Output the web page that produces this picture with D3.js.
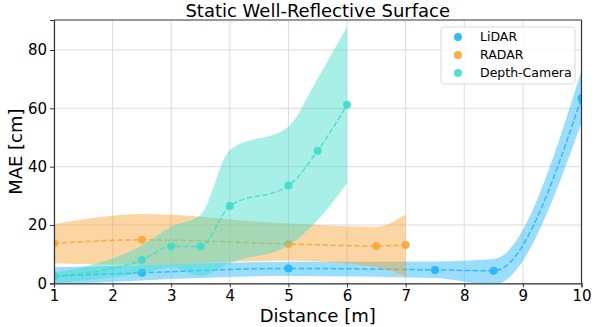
<!DOCTYPE html>
<html>
<head>
<meta charset="utf-8">
<script src="https://cdn.jsdelivr.net/npm/d3@7"></script>
<style>
  body { margin: 0; background: #fff; }
  svg { font-family: "DejaVu Sans", sans-serif; }
</style>
</head>
<body>
<div id="chart"></div>
<script>
const lidarX = [1, 2.5, 5, 7.5, 8.5, 10];
const lidarMae = [2.5, 3.6, 5.1, 4.6, 4.3, 63.5];
const lidarHi = [5.5, 6.2, 7.4, 7.5, 8.3, 73];
const lidarLo = [-0.5, 1.0, 2.5, 1.8, -0.5, 55];

const radarX = [1, 2.5, 5, 6.5, 7];
const radarMae = [13.7, 14.9, 13.5, 12.8, 13.1];
const radarHi = [20.3, 23.8, 20.5, 19.4, 23.6];
const radarLo = [6.9, 6.3, 7.8, 5.5, 2.3];

const depthX = [1, 2.5, 3, 3.5, 4, 5, 5.5, 6];
const depthMae = [2.4, 8.0, 12.6, 12.6, 26.5, 33.5, 45.5, 61.2];
const depthHi = [3.5, 13.0, 19.4, 23.4, 45.7, 53.7, 70.3, 88];
const depthLo = [0, 3.5, 5.5, 2.5, 7.0, 13.0, 21.7, 34.3];

const seriesNames = ["LiDAR", "RADAR", "Depth-Camera"];
const seriesColors = ["#1fb4f8", "#f7a535", "#3fdccb"];

const xTicks = [1, 2, 3, 4, 5, 6, 7, 8, 9, 10];
const yTicks = [0, 20, 40, 60, 80];

const width = 598, height = 327;
const margin = {top: 20, right: 16, bottom: 44, left: 54};

const svg = d3.select("#chart").append("svg")
    .attr("width", width)
    .attr("height", height);

const x = d3.scaleLinear().domain([1, 10]).range([margin.left, width - margin.right - 0.5]);
const y = d3.scaleLinear().domain([0, 90.3]).range([height - margin.bottom + 0.3, margin.top]);

svg.append("defs").append("clipPath").attr("id", "plot")
  .append("rect")
    .attr("x", x(1)).attr("y", y(90.3))
    .attr("width", x(10) - x(1)).attr("height", y(0) - y(90.3));

// grid
const grid = svg.append("g");
grid.selectAll(".gx").data(xTicks).enter().append("line")
    .attr("x1", d => x(d)).attr("x2", d => x(d))
    .attr("y1", y(0)).attr("y2", y(90.3))
    .attr("stroke", "#dcdcdc").attr("stroke-width", 1);
grid.selectAll(".gy").data(yTicks).enter().append("line")
    .attr("x1", x(1)).attr("x2", x(10))
    .attr("y1", d => y(d)).attr("y2", d => y(d))
    .attr("stroke", "#dcdcdc").attr("stroke-width", 1);

const series = [
  {xs: lidarX, m: lidarMae, hi: lidarHi, lo: lidarLo},
  {xs: radarX, m: radarMae, hi: radarHi, lo: radarLo},
  {xs: depthX, m: depthMae, hi: depthHi, lo: depthLo}
];

const plot = svg.append("g").attr("clip-path", "url(#plot)");

series.forEach((s, i) => {
  const color = seriesColors[i];
  const idx = d3.range(s.xs.length);

  const area = d3.area()
      .x(j => x(s.xs[j]))
      .y0(j => y(s.lo[j]))
      .y1(j => y(s.hi[j]))
      .curve(d3.curveMonotoneX);

  plot.append("path")
      .attr("d", area(idx))
      .attr("fill", color)
      .attr("fill-opacity", 0.45);

  const line = d3.line()
      .x(j => x(s.xs[j]))
      .y(j => y(s.m[j]))
      .curve(d3.curveMonotoneX);

  plot.append("path")
      .attr("d", line(idx))
      .attr("fill", "none")
      .attr("stroke", color)
      .attr("stroke-opacity", 0.85)
      .attr("stroke-width", 1.5)
      .attr("stroke-dasharray", "5.5,2.4");

  plot.selectAll(".pt" + i).data(idx).enter().append("circle")
      .attr("cx", j => x(s.xs[j]))
      .attr("cy", j => y(s.m[j]))
      .attr("r", 4)
      .attr("fill", color)
      .attr("fill-opacity", 0.9);
});

// axes
const xAxis = svg.append("g")
    .attr("transform", `translate(0,${y(0)})`)
    .call(d3.axisBottom(x).tickValues(xTicks).tickSize(4).tickPadding(3).tickFormat(d3.format("d")));
const yAxis = svg.append("g")
    .attr("transform", `translate(${x(1)},0)`)
    .call(d3.axisLeft(y).tickValues(yTicks).tickSize(4).tickPadding(3).tickFormat(d3.format("d")));

[xAxis, yAxis].forEach(a => {
  a.selectAll("text").attr("font-size", 15).attr("fill", "#000").attr("font-family", "DejaVu Sans");
  a.selectAll(".tick line").attr("stroke", "#333");
  a.select(".domain").attr("stroke", "#333").attr("stroke-width", 1.2);
});

// top and right frame
svg.append("line").attr("x1", x(1)).attr("x2", x(10)).attr("y1", y(90.3)).attr("y2", y(90.3))
    .attr("stroke", "#333").attr("stroke-width", 1.2);
svg.append("line").attr("x1", x(10)).attr("x2", x(10)).attr("y1", y(90.3)).attr("y2", y(0))
    .attr("stroke", "#333").attr("stroke-width", 1.2);

// title & labels
svg.append("text")
    .attr("x", (x(1) + x(10)) / 2).attr("y", 17)
    .attr("text-anchor", "middle").attr("font-size", 18)
    .text("Static Well-Reflective Surface");

svg.append("text")
    .attr("x", (x(1) + x(10)) / 2).attr("y", 322)
    .attr("text-anchor", "middle").attr("font-size", 18)
    .text("Distance [m]");

svg.append("text")
    .attr("transform", `translate(22,${(y(0) + y(90.3)) / 2}) rotate(-90)`)
    .attr("text-anchor", "middle").attr("font-size", 18)
    .text("MAE [cm]");

// legend
const legend = svg.append("g").attr("transform", "translate(441,27)");
legend.append("rect")
    .attr("width", 134).attr("height", 57).attr("rx", 3)
    .attr("fill", "#fff").attr("fill-opacity", 0.8)
    .attr("stroke", "#d8d8d8");
seriesNames.forEach((name, i) => {
  const row = legend.append("g").attr("transform", `translate(0,${10 + i * 18})`);
  row.append("circle").attr("cx", 17).attr("cy", 0).attr("r", 4)
      .attr("fill", seriesColors[i]).attr("fill-opacity", 0.9);
  row.append("text").attr("x", 39).attr("y", 0).attr("dy", "0.35em")
      .attr("font-size", 12.5).text(name);
});
</script>
</body>
</html>
